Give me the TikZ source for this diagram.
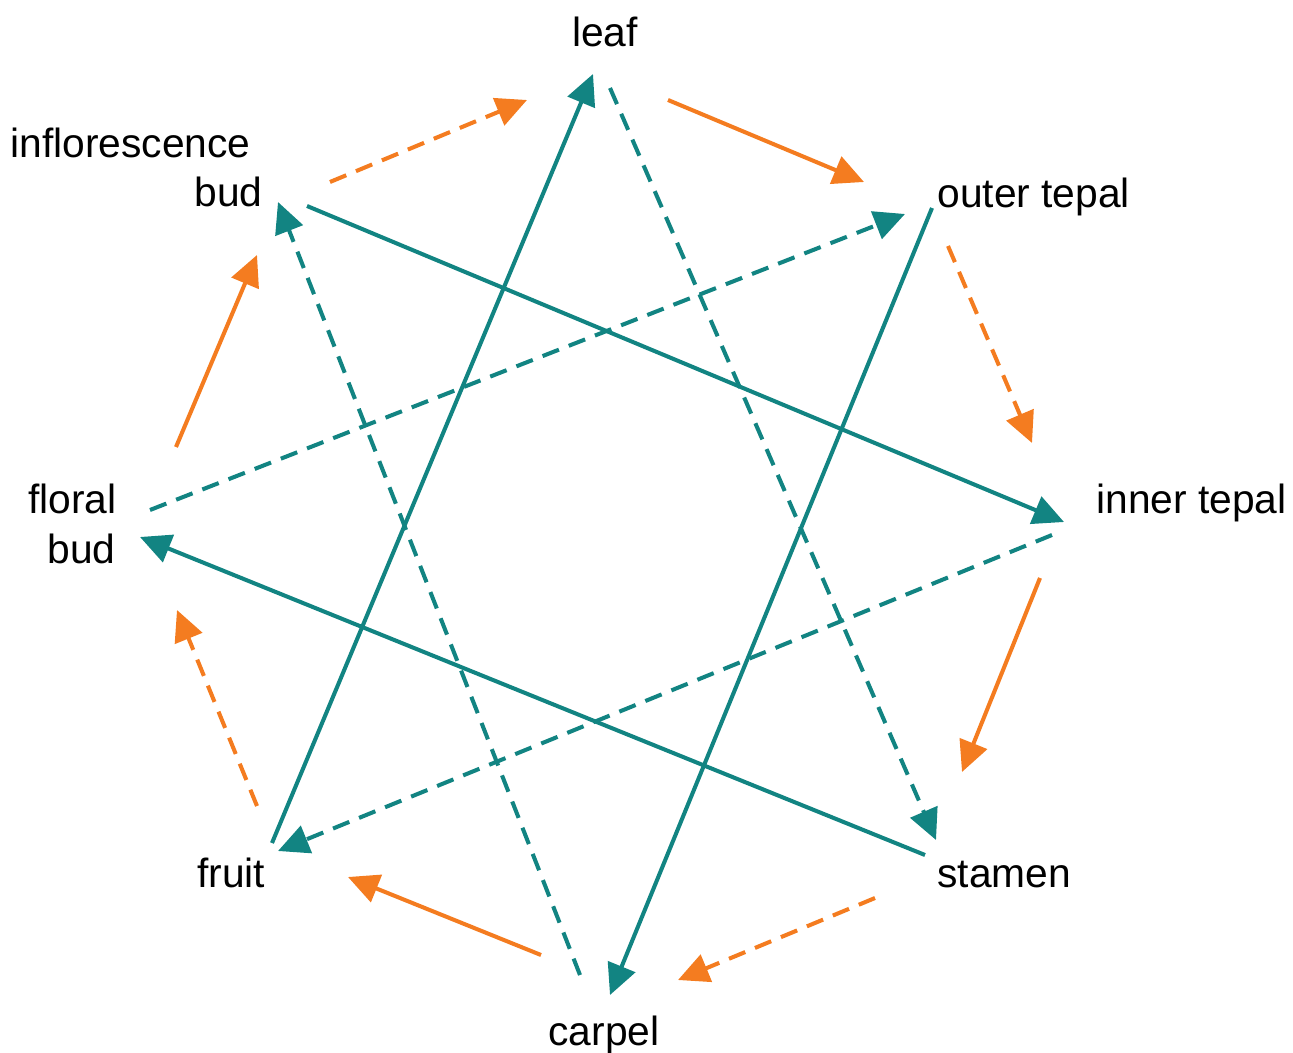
\documentclass[tikz,border=0pt]{standalone}
\usepackage{fontspec}
\setmainfont{Liberation Sans}
\usetikzlibrary{arrows.meta}
\definecolor{teal1}{HTML}{128482}
\definecolor{orng}{HTML}{F47C20}
\tikzset{
  lbl/.style={font=\fontsize{23.2}{28}\selectfont, inner sep=0pt},
  tl/.style={draw=teal1, line width=2.3pt, -{Triangle[length=17.5pt,width=16.5pt]}},
  ol/.style={draw=orng, line width=2.3pt, -{Triangle[length=17.5pt,width=16.5pt]}},
  dsh/.style={dash pattern=on 10pt off 6pt},
}
\begin{document}
\begin{tikzpicture}[x=0.02cm,y=-0.02cm]
\useasboundingbox (0,0) rectangle (1293,1053);
% labels
\node[lbl, anchor=base] (leaf) at (605,47) {leaf};
\node[lbl, anchor=base west] (infl) at (10,158) {inflorescence};
\node[lbl, anchor=base east] (ibud) at (263,207) {bud};
\node[lbl, anchor=base west] (outer) at (937,208) {outer tepal};
\node[lbl, anchor=base west] (inner) at (1096,513) {inner tepal};
\node[lbl, anchor=base west] (floral) at (28,513) {floral};
\node[lbl, anchor=base east] (fbud) at (116,563) {bud};
\node[lbl, anchor=base west] (fruit) at (197,887) {fruit};
\node[lbl, anchor=base west] (stamen) at (937,887) {stamen};
\node[lbl, anchor=base] (carpel) at (604,1045) {carpel};
% endpoints
\coordinate (a1) at (272,843); \coordinate (b1) at (593,74);
\coordinate (a2) at (307,206); \coordinate (b2) at (1064,522);
\coordinate (a3) at (932,208); \coordinate (b3) at (610,995);
\coordinate (a4) at (925,855); \coordinate (b4) at (140,537);
\coordinate (a5) at (610,88);  \coordinate (b5) at (936,840);
\coordinate (a6) at (150,510); \coordinate (b6) at (905,214);
\coordinate (a7) at (1052,535); \coordinate (b7) at (278,851);
\coordinate (a8) at (580,975); \coordinate (b8) at (278,202);
\coordinate (a9) at (668,100); \coordinate (b9) at (864,182);
\coordinate (a10) at (1040,578); \coordinate (b10) at (962,772);
\coordinate (a11) at (541,955); \coordinate (b11) at (348,877);
\coordinate (a12) at (176,447); \coordinate (b12) at (257,255);
\coordinate (a13) at (330,182); \coordinate (b13) at (527,100);
\coordinate (a14) at (948,246); \coordinate (b14) at (1032,443);
\coordinate (a15) at (875,898); \coordinate (b15) at (678,980);
\coordinate (a16) at (257,806); \coordinate (b16) at (177,610);
% teal solid
\draw[tl] (a1) -- (b1);
\draw[tl] (a2) -- (b2);
\draw[tl] (a3) -- (b3);
\draw[tl] (a4) -- (b4);
% teal dashed
\draw[tl,dsh] (a5) -- (b5);
\draw[tl,dsh] (a6) -- (b6);
\draw[tl,dsh] (a7) -- (b7);
\draw[tl,dsh] (a8) -- (b8);
% orange
\draw[ol] (a9) -- (b9);
\draw[ol] (a10) -- (b10);
\draw[ol] (a11) -- (b11);
\draw[ol] (a12) -- (b12);
\draw[ol,dsh] (a13) -- (b13);
\draw[ol,dsh] (a14) -- (b14);
\draw[ol,dsh] (a15) -- (b15);
\draw[ol,dsh] (a16) -- (b16);
\end{tikzpicture}
\end{document}
